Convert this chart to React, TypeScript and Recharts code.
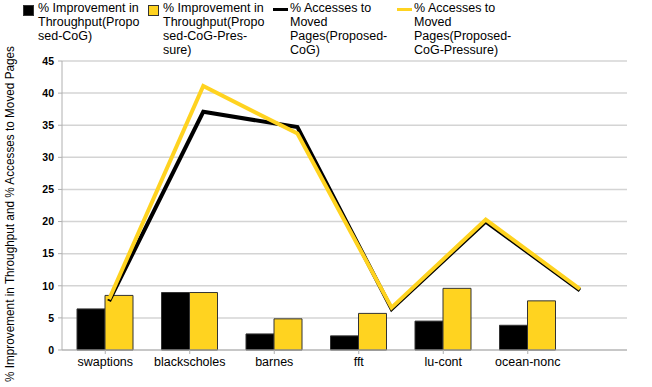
import React from 'react'
import {
  ComposedChart, Bar, Line, XAxis, YAxis, CartesianGrid
} from 'recharts'

const BENCHMARKS = ['swaptions', 'blackscholes', 'barnes', 'fft', 'lu-cont', 'ocean-nonc']
const THROUGHPUT_COG = [6.4, 8.95, 2.5, 2.2, 4.5, 3.85]
const THROUGHPUT_PRESSURE = [8.5, 8.95, 4.85, 5.7, 9.6, 7.65]
const MOVED_COG = [7.6, 37.1, 34.7, 6.4, 20.0, 9.3]
const MOVED_PRESSURE = [7.9, 41.1, 33.7, 6.6, 20.3, 9.5]
const Y_TICKS = [0, 5, 10, 15, 20, 25, 30, 35, 40, 45]

const YELLOW = '#ffd320'
const GRID = '#d4d4d4'
const FONT = 'Liberation Sans, Arial, sans-serif'

const data = BENCHMARKS.map((name, i) => ({
  name,
  tCog: THROUGHPUT_COG[i],
  tPressure: THROUGHPUT_PRESSURE[i],
  mCog: MOVED_COG[i],
  mPressure: MOVED_PRESSURE[i],
}))

const LEGEND_ITEMS = [
  { kind: 'box', color: '#000', x: 23, lines: ['% Improvement in', 'Throughput(Propo', 'sed-CoG)'] },
  { kind: 'box', color: YELLOW, x: 148, lines: ['% Improvement in', 'Throughput(Propo', 'sed-CoG-Pres-', 'sure)'] },
  { kind: 'line', color: '#000', x: 273, lines: ['% Accesses to', 'Moved', 'Pages(Proposed-', 'CoG)'] },
  { kind: 'line', color: YELLOW, x: 397, lines: ['% Accesses to', 'Moved', 'Pages(Proposed-', 'CoG-Pressure)'] },
]

function TopLegend() {
  return (
    <div style={{ position: 'absolute', left: 0, top: 0, width: 652, height: 60, fontFamily: FONT, fontSize: 12.5, color: '#000' }}>
      {LEGEND_ITEMS.map((item) => (
        <div key={item.x} style={{ position: 'absolute', left: item.x, top: 1 }}>
          {item.kind === 'box' ? (
            <div style={{ position: 'absolute', left: 0, top: 4, width: 9, height: 9, background: item.color, border: '1px solid #333' }} />
          ) : (
            <div style={{ position: 'absolute', left: 0, top: 7, width: 15, height: 3, background: item.color }} />
          )}
          <div style={{ position: 'absolute', left: item.kind === 'box' ? 15 : 17, top: 0, lineHeight: '14px', whiteSpace: 'nowrap' }}>
            {item.lines.map((l) => <div key={l}>{l}</div>)}
          </div>
        </div>
      ))}
    </div>
  )
}

function YLabel() {
  return (
    <text
      x={0}
      y={0}
      transform="translate(14, 214) rotate(-90)"
      textAnchor="middle"
      fontFamily={FONT}
      fontSize={13}
      textLength={336}
      lengthAdjust="spacingAndGlyphs"
      fill="#000"
    >
      % Improvement in Throughput and % Accesses to Moved Pages
    </text>
  )
}

export default function App() {
  return (
    <div style={{ position: 'absolute', left: 0, top: 0, width: 652, height: 387, background: '#fff' }}>
      <ComposedChart
        width={652}
        height={387}
        data={data}
        margin={{ top: 61, right: 25, bottom: 7, left: 22 }}
        barGap={0}
        style={{ fontFamily: FONT }}
      >
        <CartesianGrid vertical={false} stroke={GRID} strokeWidth={1.5} yAxisId="left" xAxisId="bars" />
        <XAxis
          xAxisId="bars"
          dataKey="name"
          height={30}
          padding={{ left: 1, right: 57 }}
          stroke="#b0b0b0"
          tickSize={4}
          tick={{ fontSize: 12.5, fill: '#000' }}
          tickMargin={3}
          interval={0}
        />
        <XAxis xAxisId="lines" dataKey="name" hide />
        <YAxis
          yAxisId="left"
          width={40}
          domain={[0, 45]}
          ticks={Y_TICKS}
          interval={0}
          stroke="#b0b0b0"
          tickSize={4}
          tickMargin={4}
          tick={{ fontSize: 10.5, fontWeight: 'bold', fill: '#000' }}
          label={<YLabel />}
        />
        <YAxis yAxisId="right" orientation="right" width={0} domain={[0, 45]} tick={false} tickLine={false} stroke="#b0b0b0" />
        <Bar xAxisId="bars" yAxisId="left" dataKey="tCog" fill="#000" stroke="#333" strokeWidth={1} barSize={28} isAnimationActive={false} />
        <Bar xAxisId="bars" yAxisId="left" dataKey="tPressure" fill={YELLOW} stroke="#333" strokeWidth={1} barSize={28} isAnimationActive={false} />
        <Line xAxisId="lines" yAxisId="left" type="linear" dataKey="mCog" stroke="#000" strokeWidth={4} dot={false} isAnimationActive={false} />
        <Line xAxisId="lines" yAxisId="left" type="linear" dataKey="mPressure" stroke={YELLOW} strokeWidth={4} dot={false} isAnimationActive={false} />
      </ComposedChart>
      <TopLegend />
    </div>
  )
}
